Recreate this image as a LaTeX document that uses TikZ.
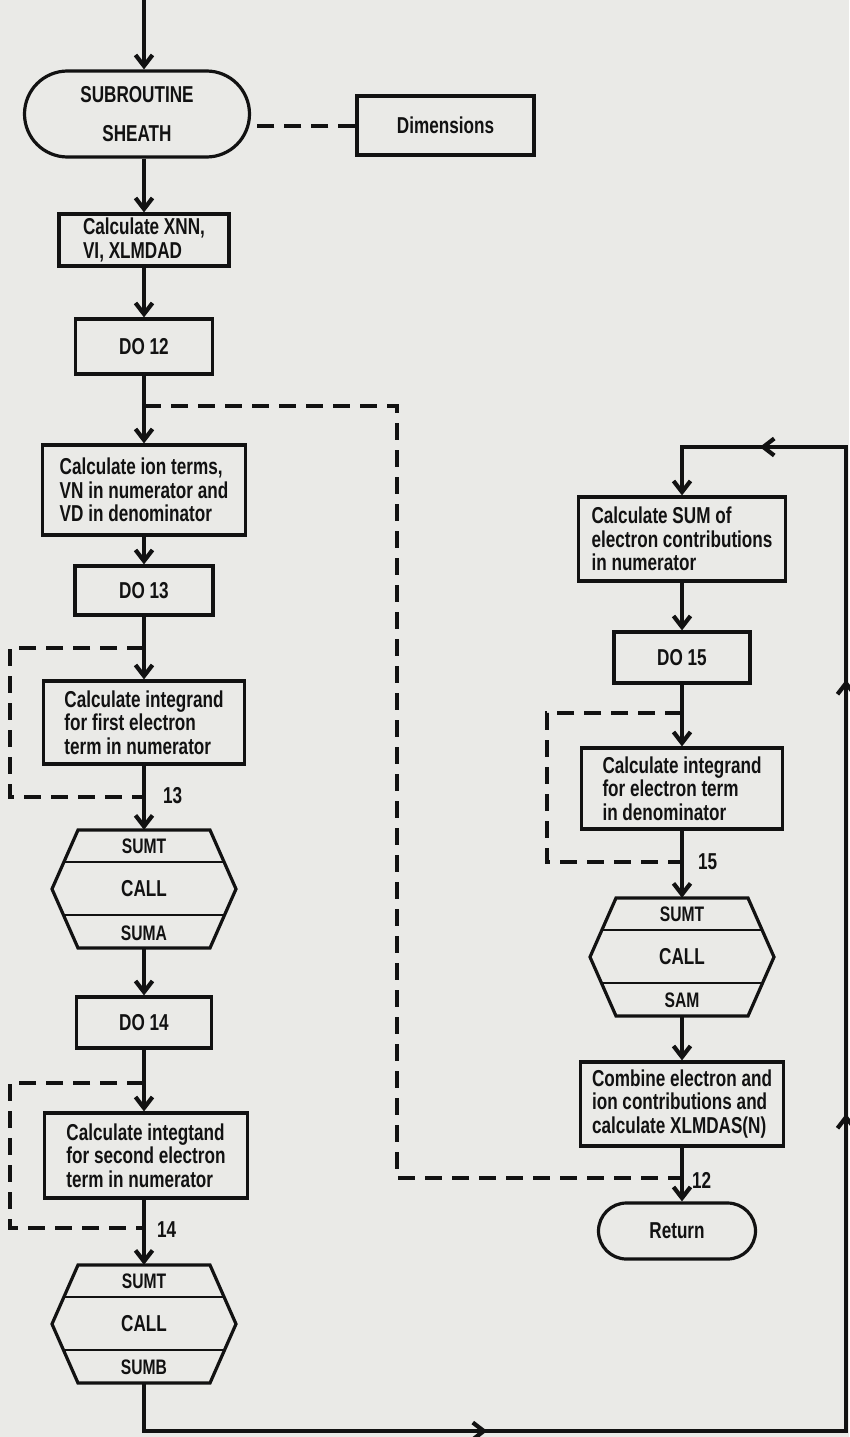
\documentclass[tikz,border=0pt]{standalone}
\usepackage{fontspec}
\setmainfont[FakeStretch=0.8]{Liberation Sans}
\newfontfamily\drawfont[FakeStretch=0.745]{Liberation Sans}
\usetikzlibrary{arrows.meta,shapes.misc,calc,decorations.markings}
\definecolor{paper}{RGB}{234,234,231}
\definecolor{ink}{RGB}{18,18,18}
\newcommand\hexoutline[1]{%
  \draw[boxline] ($(#1.center)+(-66,-59)$) -- ($(#1.center)+(66,-59)$) -- ($(#1.center)+(92,0)$) -- ($(#1.center)+(66,59)$) -- ($(#1.center)+(-66,59)$) -- ($(#1.center)+(-92,0)$) -- cycle;
  \draw[divline] ($(#1.center)+(-80,-27)$) -- ($(#1.center)+(80,-27)$);
  \draw[divline] ($(#1.center)+(-80.5,26)$) -- ($(#1.center)+(80.5,26)$);}
\begin{document}
\begin{tikzpicture}[x=1pt,y=-1pt,
  txt/.style={font=\drawfont\bfseries\fontsize{23}{23.5}\selectfont, text=ink},
  box/.style={txt, draw=ink, line width=3.2pt, rectangle, inner sep=0pt, align=left},
  term/.style={txt, draw=ink, line width=3.2pt, rounded rectangle, inner sep=0pt, align=center},
  hexnode/.style={rectangle, minimum width=184pt, minimum height=118pt, inner sep=0pt},
  hexb/.style={font=\drawfont\bfseries\fontsize{21}{22}\selectfont, text=ink, inner sep=0pt},
  hexm/.style={font=\drawfont\bfseries\fontsize{23}{24}\selectfont, text=ink, inner sep=0pt},
  lbl/.style={font=\drawfont\bfseries\fontsize{23}{24}\selectfont, text=ink, inner sep=0pt, anchor=west},
  flow/.style={draw=ink, line width=4.2pt, -{Straight Barb[length=11pt,width=17pt]}},
  dashline/.style={draw=ink, line width=4pt, dash pattern=on 17pt off 10pt},
  boxline/.style={draw=ink, line width=3.2pt, line join=miter},
  divline/.style={draw=ink, line width=2.6pt},
]
\fill[paper] (0,0) rectangle (849,1437);
\useasboundingbox (0,0) rectangle (849,1437);

% ---------- left column ----------
\coordinate (start) at (144,0);
\node[term, minimum width=225pt, minimum height=86pt] (term) at (137,114) {SUBROUTINE\\[15pt]SHEATH};
\node[box, minimum width=177pt, minimum height=59pt] (dim) at (445.5,125.5) {Dimensions};
\node[box, minimum width=170pt, minimum height=52pt] (xnn) at (144,240) {Calculate XNN,\\VI, XLMDAD};
\node[box, minimum width=137pt, minimum height=55pt] (do12) at (144,346.5) {DO 12};
\node[box, minimum width=203pt, minimum height=90pt] (ion) at (144,490) {Calculate ion terms,\\VN in numerator and\\VD in denominator};
\node[box, minimum width=138pt, minimum height=49pt] (do13) at (144,590.5) {DO 13};
\node[box, minimum width=201pt, minimum height=83pt] (first) at (144,722.5) {Calculate integrand\\for first electron\\term in numerator};
\node[hexnode] (hexA) at (144,889) {};
\hexoutline{hexA}
\node[hexb] (hexA1) at ($(hexA.center)+(0,-43)$) {SUMT};
\node[hexm] (hexA2) at (hexA.center) {CALL};
\node[hexb] (hexA3) at ($(hexA.center)+(0,44)$) {SUMA};
\node[box, minimum width=135pt, minimum height=51pt] (do14) at (144,1022.5) {DO 14};
\node[box, minimum width=203pt, minimum height=85pt] (second) at (146,1155.5) {Calculate integtand\\for second electron\\term in numerator};
\node[hexnode] (hexB) at (144,1324) {};
\hexoutline{hexB}
\node[hexb] (hexB1) at ($(hexB.center)+(0,-43)$) {SUMT};
\node[hexm] (hexB2) at (hexB.center) {CALL};
\node[hexb] (hexB3) at ($(hexB.center)+(0,43)$) {SUMB};

% ---------- right column ----------
\node[box, minimum width=207pt, minimum height=84pt] (sum) at (682,539) {Calculate SUM of\\electron contributions\\in numerator};
\node[box, minimum width=136pt, minimum height=51pt] (do15) at (682,657.5) {DO 15};
\node[box, minimum width=201pt, minimum height=81pt] (denom) at (682,788.5) {Calculate integrand\\for electron term\\in denominator};
\node[hexnode] (hexC) at (682,957) {};
\hexoutline{hexC}
\node[hexb] (hexC1) at ($(hexC.center)+(0,-43)$) {SUMT};
\node[hexm] (hexC2) at (hexC.center) {CALL};
\node[hexb] (hexC3) at ($(hexC.center)+(0,43)$) {SAM};
\node[box, minimum width=203pt, minimum height=84pt] (comb) at (682,1104) {Combine electron and\\ion contributions and\\calculate XLMDAS(N)};
\node[term, minimum width=157pt, minimum height=56pt] (ret) at (677,1231) {Return};

% ---------- labels ----------
\node[lbl] (l13) at (163,796) {13};
\node[lbl] (l14) at (157,1230) {14};
\node[lbl] (l15) at (698,862) {15};
\node[lbl] (l12) at (692,1180) {12};

% ---------- connectors ----------
\draw[flow] (start) -- (start |- term.north);
\draw[dashline] (dim.west) -- (dim.west -| term.east);
\draw[flow] (xnn.north |- term.south) -- (xnn.north);
\draw[flow] (xnn.south) -- (do12.north);
\draw[flow] (do12.south) -- (ion.north);
\draw[flow] (ion.south) -- (do13.north);
\draw[flow] (do13.south) -- (first.north);
\draw[flow] (first.south) -- (hexA.north);
\draw[flow] (hexA.south) -- (do14.north);
\draw[flow] (do14.south) -- (do14.south |- second.north);
\draw[flow] (second.south -| hexB.north) -- (hexB.north);

\coordinate (j12) at (144,406);
\coordinate (c12) at (397,1178);
\coordinate (k12) at (682,1178);
\draw[dashline] (j12) -| (c12) -- (k12);

\coordinate (j13) at (144,648);
\coordinate (c13) at (10,797);
\coordinate (k13) at (144,797);
\draw[dashline] (j13) -| (c13) -- (k13);

\coordinate (j14) at (144,1083);
\coordinate (c14) at (10,1228);
\coordinate (k14) at (144,1228);
\draw[dashline] (j14) -| (c14) -- (k14);

\draw[flow] (sum.south) -- (do15.north);
\draw[flow] (do15.south) -- (denom.north);
\coordinate (j15) at (682,713);
\coordinate (c15) at (547,862);
\coordinate (k15) at (682,862);
\draw[dashline] (j15) -| (c15) -- (k15);
\draw[flow] (denom.south) -- (hexC.north);
\draw[flow] (hexC.south) -- (comb.north);
\draw[flow] (comb.south) -- (comb.south |- ret.north);

\coordinate (cb1) at (846,1431);
\coordinate (cb2) at (846,447);
\draw[flow, postaction={decorate}, decoration={markings,
   mark=at position 391pt with {\arrow{Straight Barb[length=11pt,width=17pt]}},
   mark=at position 1067pt with {\arrow{Straight Barb[length=11pt,width=17pt]}},
   mark=at position 1501pt with {\arrow{Straight Barb[length=11pt,width=17pt]}},
   mark=at position 1820pt with {\arrow{Straight Barb[length=11pt,width=17pt]}}}]
  (hexB.south) |- (cb1) -- (cb2) -| (sum.north);
\end{tikzpicture}
\end{document}
